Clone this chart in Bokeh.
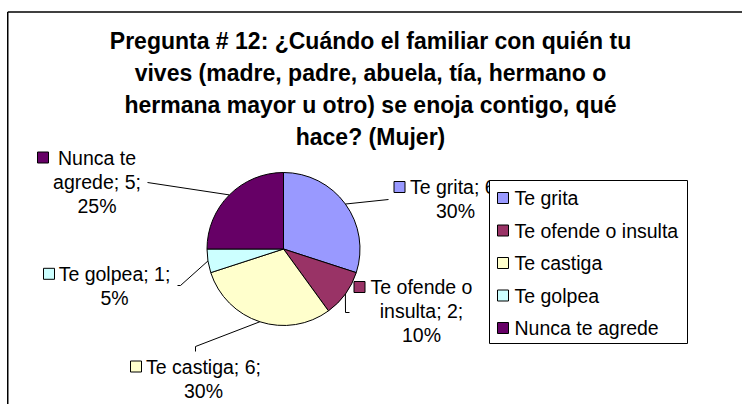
import numpy as np
from bokeh.plotting import figure
from bokeh.models import Range1d, ColumnDataSource
from bokeh.core.properties import value
from bokeh.embed import file_html
from bokeh.resources import INLINE

# ---------------- data ----------------
categories = ["Te grita", "Te ofende o insulta", "Te castiga", "Te golpea", "Nunca te agrede"]
counts = [6, 2, 6, 1, 5]
colors = ["#9999FF", "#993366", "#FFFFCC", "#CCFFFF", "#660066"]
title_lines = [
    "Pregunta # 12: ¿Cuándo el familiar con quién tu",
    "vives (madre, padre, abuela, tía, hermano o",
    "hermana mayor u otro) se enoja contigo, qué",
    "hace? (Mujer)",
]

# ---------------- layout (pixel coordinates of the picture) ----------------
W, H = 742, 404
CX, CY, R = 283.0, 248.5, 76.5
FONT = value("Liberation Sans")
LBL_SIZE = "19.5px"
LINE_H = 24
TITLE_Y0, TITLE_DY = 40.0, 32.2
# words per line for each data label, text centre x, first-line centre y, key square centre x
label_breaks = [[3, 1], [3, 2, 1], [3, 1], [3, 1], [2, 2, 1]]
label_cx = [455, 421, 203, 114, 96.5]
label_cy = [186.5, 286.5, 366, 273.3, 157]
label_keyx = [399, 359, 135.5, 48.5, 42.5]
# leader line path after the pie-edge point
leader_paths = [
    [(388, 199)],
    [(345, 312), (349, 312)],
    [(195, 346), (195, 351)],
    [(180, 285), (177, 285)],
    [(147, 182)],
]
LEG_L, LEG_R, LEG_T, LEG_B = 489, 687, 180, 343
LEG_KEYX, LEG_TXTX, LEG_Y0, LEG_DY = 502.5, 514, 197.5, 32.5


def Y(py):
    return -py


p = figure(width=W, height=H, x_range=Range1d(0, W), y_range=Range1d(-H, 0),
           output_backend="svg", toolbar_location=None, title=None,
           x_axis_type=None, y_axis_type=None, min_border=0)
p.min_border_left = p.min_border_right = p.min_border_top = p.min_border_bottom = 0
p.grid.visible = False
p.outline_line_color = None
p.background_fill_color = "white"
p.border_fill_color = "white"

# chart-area border (top and left visible in the crop)
p.line(x=[7.25, 7.25], y=[Y(H), Y(11.5)], line_color="black", line_width=1.5)
p.line(x=[7.25, W], y=[Y(11.5), Y(11.5)], line_color="black", line_width=1.5)

# title
p.text(x=[370] * len(title_lines), y=[Y(TITLE_Y0 + i * TITLE_DY) for i in range(len(title_lines))],
       text=title_lines, text_font=FONT, text_font_size="23px", text_font_style="bold",
       text_align="center", text_baseline="middle", text_color="black")

# pie
total = float(sum(counts))
cum = np.cumsum([0] + counts)
th0 = 2 * np.pi * cum[:-1] / total          # clockwise from 12 o'clock
th1 = 2 * np.pi * cum[1:] / total
src = ColumnDataSource(dict(start=np.pi / 2 - th1, end=np.pi / 2 - th0, color=colors))
p.wedge(x=CX, y=Y(CY), radius=R, start_angle="start", end_angle="end", direction="anticlock",
        fill_color="color", line_color="black", line_width=1, source=src)

# leader lines
xs, ys = [], []
for i in range(len(counts)):
    mid = (th0[i] + th1[i]) / 2
    ex, ey = CX + R * np.sin(mid), CY - R * np.cos(mid)
    pts = [(ex, ey)] + leader_paths[i]
    xs.append([q[0] for q in pts])
    ys.append([Y(q[1]) for q in pts])
p.multi_line(xs=xs, ys=ys, line_color="black", line_width=1)

# data labels
lx, ly, lt = [], [], []
for i, cat in enumerate(categories):
    pct = round(100 * counts[i] / total)
    full = f"{cat}; {counts[i]}; {pct}%"
    words = full.split(" ")
    k = 0
    for j, n in enumerate(label_breaks[i]):
        lt.append(" ".join(words[k:k + n]))
        k += n
        lx.append(label_cx[i])
        ly.append(Y(label_cy[i] + j * LINE_H))
p.rect(x=label_keyx, y=[Y(v) for v in label_cy], width=11, height=11,
       fill_color=colors, line_color="black", line_width=1)
p.text(x=lx, y=ly, text=lt, text_font=FONT, text_font_size=LBL_SIZE,
       text_align="center", text_baseline="middle", text_color="black")

# legend (drawn over the labels)
p.quad(left=[LEG_L], right=[LEG_R], top=[Y(LEG_T)], bottom=[Y(LEG_B)],
       fill_color="white", line_color="black", line_width=1)
leg_y = [LEG_Y0 + i * LEG_DY for i in range(len(categories))]
p.rect(x=[LEG_KEYX] * len(categories), y=[Y(v) for v in leg_y], width=11, height=11,
       fill_color=colors, line_color="black", line_width=1)
p.text(x=[LEG_TXTX] * len(categories), y=[Y(v) for v in leg_y], text=categories,
       text_font=FONT, text_font_size=LBL_SIZE, text_align="left",
       text_baseline="middle", text_color="black")

open("out.html", "w").write(file_html(p, INLINE))
